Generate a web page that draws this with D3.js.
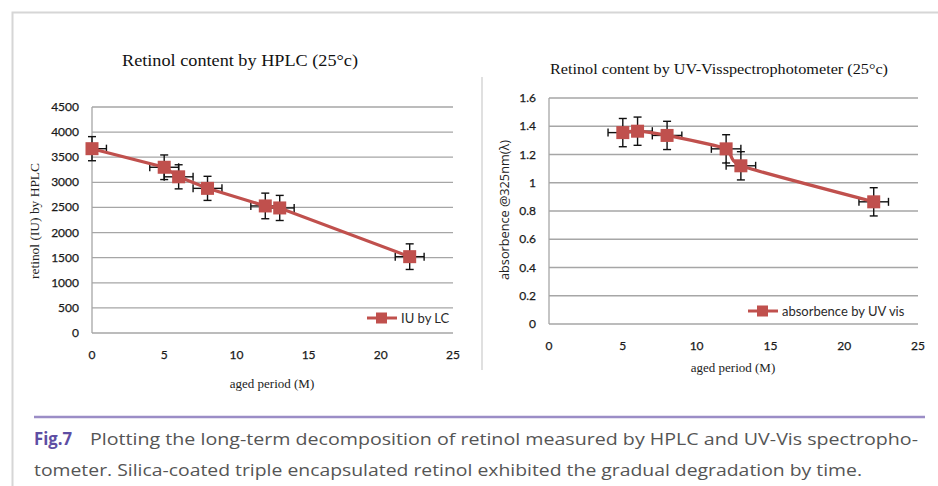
<!DOCTYPE html>
<html>
<head>
<meta charset="utf-8">
<script src="https://cdn.jsdelivr.net/npm/d3@7"></script>
<style>
  body { margin: 0; background: #fff; }
  svg { display: block; }
</style>
</head>
<body>
<div id="visual"></div>
<script>
// HPLC series
const hplcMonths = [0, 5, 6, 8, 12, 13, 22];
const hplcIU = [3670, 3300, 3110, 2880, 2530, 2490, 1520];
const hplcErrY = [240, 245, 240, 240, 255, 250, 255];
const hplcErrX = [1, 1, 1, 1, 1, 1, 1];
const hplcYTicks = [0, 500, 1000, 1500, 2000, 2500, 3000, 3500, 4000, 4500];

// UV-Vis series
const uvMonths = [5, 6, 8, 12, 13, 22];
const uvAbs = [1.355, 1.365, 1.335, 1.24, 1.12, 0.865];
const uvErrY = [0.1, 0.1, 0.1, 0.1, 0.1, 0.1];
const uvErrX = [1, 1, 1, 1, 1, 1];
const uvYTicks = [0, 0.2, 0.4, 0.6, 0.8, 1, 1.2, 1.4, 1.6];

const xTicks = [0, 5, 10, 15, 20, 25];

const red = "#c0504d";
const width = 938, height = 486;

const svg = d3.select("#visual").append("svg")
    .attr("width", width).attr("height", height);

// panel frames
svg.append("path")
    .attr("d", "M12.5,486 V12.5 H938")
    .attr("fill", "none").attr("stroke", "#d6d6d6").attr("stroke-width", 2);
svg.append("line")
    .attr("x1", 482).attr("x2", 482).attr("y1", 77).attr("y2", 370)
    .attr("stroke", "#d6d6d6").attr("stroke-width", 1.5);

function drawChart(opt) {
    const x = d3.scaleLinear().domain([0, 25]).range([opt.left, opt.right]);
    const y = d3.scaleLinear().domain(opt.yDomain).range([opt.bottom, opt.top]);
    const g = svg.append("g");

    // gridlines
    g.selectAll(".grid").data(opt.yTicks).enter().append("line")
        .attr("x1", opt.left).attr("x2", opt.right)
        .attr("y1", d => y(d)).attr("y2", d => y(d))
        .attr("stroke", "#a6a6a6").attr("stroke-width", 1.3);

    g.append("line")
        .attr("x1", opt.left).attr("x2", opt.left)
        .attr("y1", opt.top).attr("y2", opt.bottom)
        .attr("stroke", "#a6a6a6").attr("stroke-width", 1.3);

    // tick labels
    g.selectAll(".yt").data(opt.yTicks).enter().append("text")
        .attr("x", opt.left - 13).attr("y", d => y(d) + 4)
        .attr("text-anchor", "end")
        .attr("font-family", "Lato").attr("font-size", 12)
        .attr("fill", "#1a1a1a").attr("stroke", "#1a1a1a").attr("stroke-width", 0.25)
        .text(opt.yFormat);
    g.selectAll(".xt").data(xTicks).enter().append("text")
        .attr("x", d => x(d)).attr("y", opt.xTickY)
        .attr("text-anchor", "middle")
        .attr("font-family", "Lato").attr("font-size", 12)
        .attr("fill", "#1a1a1a").attr("stroke", "#1a1a1a").attr("stroke-width", 0.25)
        .text(d => d);

    // title and axis labels
    g.append("text")
        .attr("x", opt.titleX).attr("y", opt.titleY)
        .attr("font-family", "Liberation Serif").attr("font-size", opt.titleSize)
        .attr("fill", "#111")
        .attr("textLength", opt.titleLen).attr("lengthAdjust", "spacingAndGlyphs")
        .text(opt.title);
    g.append("text")
        .attr("x", opt.xLabelX).attr("y", opt.xLabelY)
        .attr("text-anchor", "middle")
        .attr("font-family", "Liberation Serif").attr("font-size", 13)
        .attr("fill", "#222")
        .text("aged period (M)");
    g.append("text")
        .attr("transform", `translate(${opt.yLabelX},${opt.yLabelY}) rotate(-90)`)
        .attr("text-anchor", "middle")
        .attr("font-family", opt.yLabelFont).attr("font-size", 13)
        .attr("fill", "#222")
        .attr("textLength", opt.yLabelLen).attr("lengthAdjust", "spacingAndGlyphs")
        .text(opt.yLabel);

    const pts = opt.xs.map((d, i) => ({ x: d, y: opt.ys[i], ex: opt.ex[i], ey: opt.ey[i] }));

    // error bars
    const eb = g.append("g").attr("stroke", "#111").attr("stroke-width", 1.4);
    pts.forEach(p => {
        const cx = x(p.x), cy = y(p.y);
        const y1 = y(p.y + p.ey), y2 = y(p.y - p.ey);
        const x1 = x(Math.max(0, p.x - p.ex)), x2 = x(p.x + p.ex);
        eb.append("line").attr("x1", cx).attr("x2", cx).attr("y1", y1).attr("y2", y2);
        eb.append("line").attr("x1", cx - 4).attr("x2", cx + 4).attr("y1", y1).attr("y2", y1);
        eb.append("line").attr("x1", cx - 4).attr("x2", cx + 4).attr("y1", y2).attr("y2", y2);
        eb.append("line").attr("x1", x1).attr("x2", x2).attr("y1", cy).attr("y2", cy);
        if (p.x - p.ex >= 0)
            eb.append("line").attr("x1", x1).attr("x2", x1).attr("y1", cy - 4).attr("y2", cy + 4);
        eb.append("line").attr("x1", x2).attr("x2", x2).attr("y1", cy - 4).attr("y2", cy + 4);
    });

    const line = d3.line().x(d => x(d.x)).y(d => y(d.y)).curve(opt.curve);
    g.append("path").datum(pts)
        .attr("d", line)
        .attr("fill", "none").attr("stroke", red).attr("stroke-width", 3.2);

    g.selectAll(".mk").data(pts).enter().append("rect")
        .attr("x", d => x(d.x) - 6.5).attr("y", d => y(d.y) - 6.5)
        .attr("width", 13).attr("height", 13)
        .attr("fill", red);

    // legend
    const lg = g.append("g");
    lg.append("line")
        .attr("x1", opt.legX).attr("x2", opt.legX + 30)
        .attr("y1", opt.legY).attr("y2", opt.legY)
        .attr("stroke", red).attr("stroke-width", 3);
    lg.append("rect")
        .attr("x", opt.legX + 9).attr("y", opt.legY - 5.5)
        .attr("width", 11).attr("height", 11).attr("fill", red);
    lg.append("text")
        .attr("x", opt.legX + 34).attr("y", opt.legY + 4.5)
        .attr("font-family", "Lato").attr("font-size", 13)
        .attr("fill", "#2a2a2a")
        .text(opt.legend);
}

drawChart({
    left: 92, right: 453, top: 107, bottom: 333,
    yDomain: [0, 4500], yTicks: hplcYTicks, yFormat: d => d,
    xs: hplcMonths, ys: hplcIU, ex: hplcErrX, ey: hplcErrY,
    xTickY: 359,
    title: "Retinol content by HPLC (25°c)", titleX: 122, titleY: 66, titleSize: 16, titleLen: 236,
    xLabelX: 272, xLabelY: 388,
    yLabel: "retinol (IU) by HPLC", yLabelX: 39, yLabelY: 221, yLabelFont: "Liberation Serif", yLabelLen: 116,
    curve: d3.curveLinear,
    legX: 367, legY: 318, legend: "IU by LC"
});

drawChart({
    left: 549, right: 918, top: 98, bottom: 324,
    yDomain: [0, 1.6], yTicks: uvYTicks, yFormat: d => d,
    xs: uvMonths, ys: uvAbs, ex: uvErrX, ey: uvErrY,
    xTickY: 350,
    title: "Retinol content by UV-Visspectrophotometer (25°c)", titleX: 550, titleY: 74, titleSize: 14, titleLen: 338,
    xLabelX: 733, xLabelY: 372,
    yLabel: "absorbence @325nm(λ)", yLabelX: 509, yLabelY: 210, yLabelFont: "Open Sans", yLabelLen: 140,
    curve: d3.curveCardinal.tension(0.5),
    legX: 748, legY: 311, legend: "absorbence by UV vis"
});

// caption
svg.append("line")
    .attr("x1", 34).attr("x2", 925).attr("y1", 417).attr("y2", 417)
    .attr("stroke", "#9b8dc6").attr("stroke-width", 2.5);
svg.append("text")
    .attr("x", 34).attr("y", 445)
    .attr("font-family", "Open Sans").attr("font-weight", "bold").attr("font-size", 18)
    .attr("fill", "#5e4ea3")
    .attr("textLength", 38).attr("lengthAdjust", "spacingAndGlyphs")
    .text("Fig.7");
svg.append("text")
    .attr("x", 90).attr("y", 445)
    .attr("font-family", "Open Sans").attr("font-size", 17)
    .attr("fill", "#555")
    .attr("textLength", 828).attr("lengthAdjust", "spacingAndGlyphs")
    .text("Plotting the long-term decomposition of retinol measured by HPLC and UV-Vis spectropho-");
svg.append("text")
    .attr("x", 34).attr("y", 476)
    .attr("font-family", "Open Sans").attr("font-size", 17)
    .attr("fill", "#555")
    .attr("textLength", 828).attr("lengthAdjust", "spacingAndGlyphs")
    .text("tometer. Silica-coated triple encapsulated retinol exhibited the gradual degradation by time.");
</script>
</body>
</html>
